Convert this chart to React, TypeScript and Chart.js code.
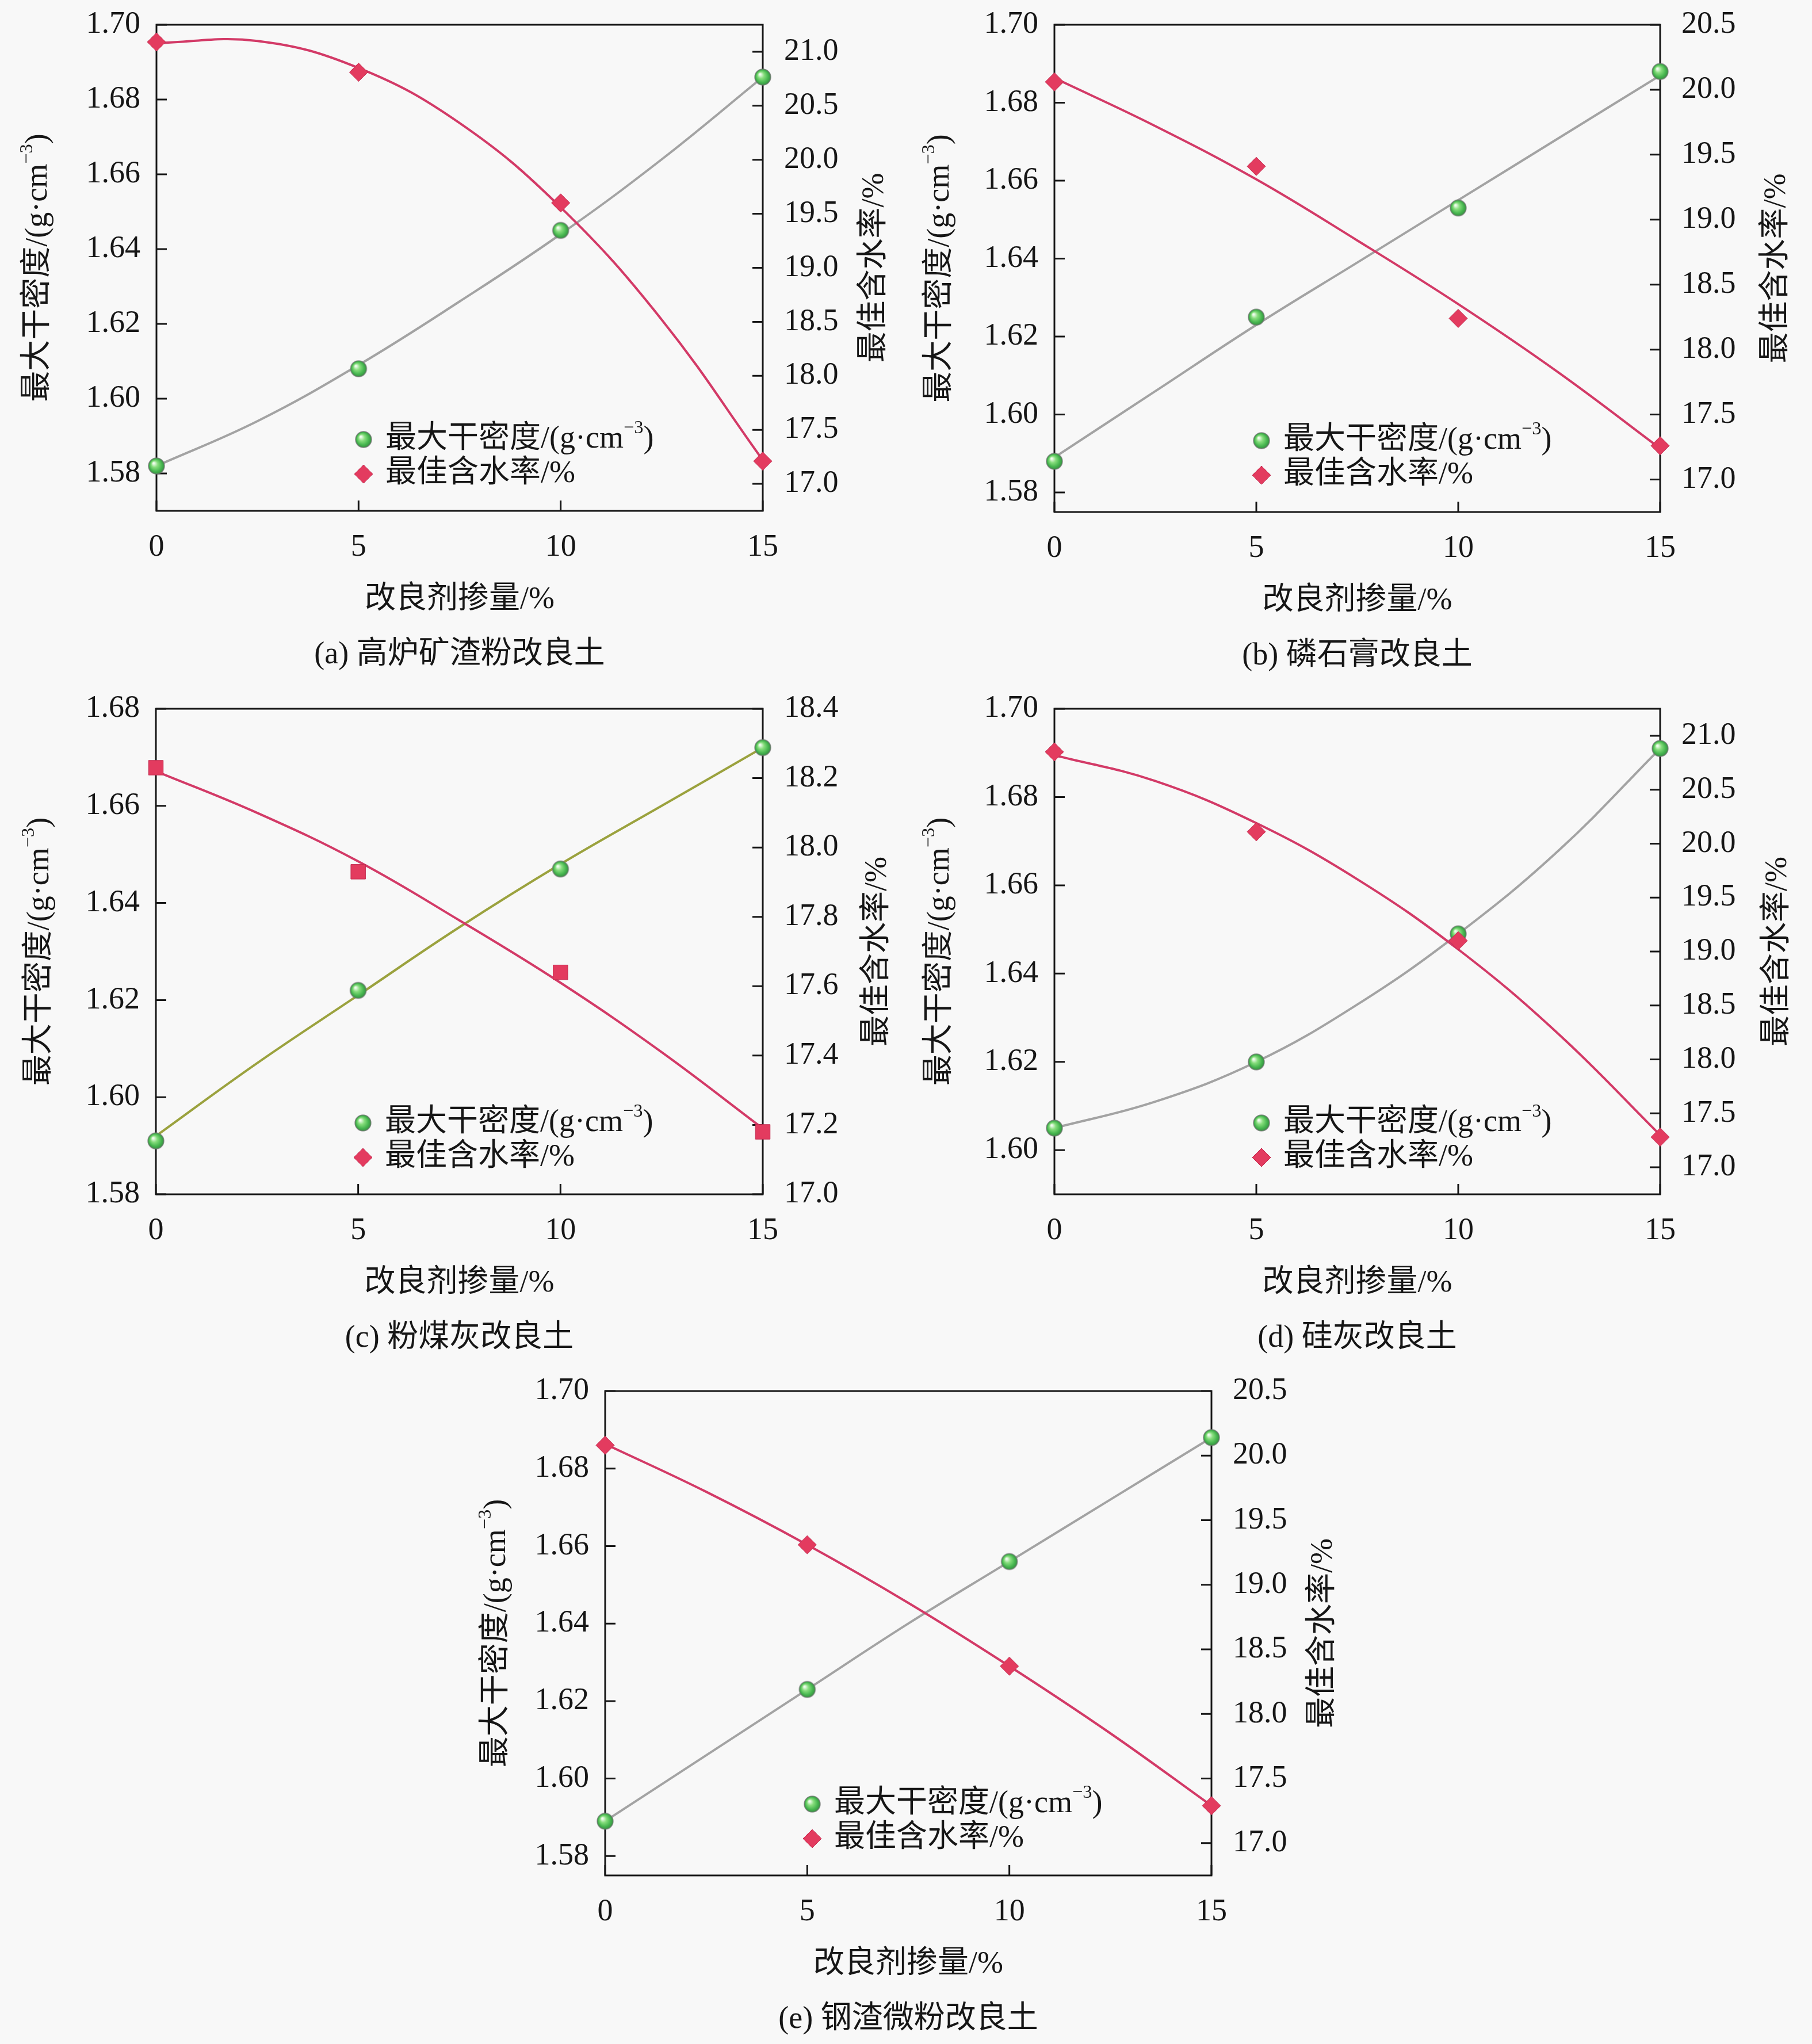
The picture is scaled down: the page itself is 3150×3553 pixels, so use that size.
import { useEffect, useRef } from 'react';
import { Chart, registerables } from 'chart.js';

Chart.register(...registerables);

// 改良剂掺量 (%)
const dosage = [0, 5, 10, 15];
// 拟合曲线读取位置
const fitDosage = [0, 2.5, 5, 7.5, 10, 12.5, 15];
const dosageTicks = [0, 5, 10, 15];

// (a) 高炉矿渣粉
const densityA = [1.582, 1.608, 1.645, 1.686];
const waterA = [21.09, 20.81, 19.6, 17.21];
const densityFitA = [1.582, 1.594, 1.609, 1.626, 1.644, 1.664, 1.686];
const waterFitA = [21.08, 21.1, 20.85, 20.34, 19.56, 18.52, 17.22];

// (b) 磷石膏
const densityB = [1.588, 1.625, 1.653, 1.688];
const waterB = [20.06, 19.41, 18.24, 17.26];
const densityFitB = [1.589, 1.606, 1.623, 1.639, 1.655, 1.671, 1.687];
const waterFitB = [20.09, 19.72, 19.31, 18.84, 18.35, 17.82, 17.24];

// (c) 粉煤灰
const densityC = [1.591, 1.622, 1.647, 1.672];
const waterC = [18.23, 17.93, 17.64, 17.18];
const densityFitC = [1.592, 1.607, 1.621, 1.635, 1.648, 1.66, 1.672];
const waterFitC = [18.22, 18.1, 17.96, 17.79, 17.61, 17.41, 17.19];

// (d) 硅灰
const densityD = [1.605, 1.62, 1.649, 1.691];
const waterD = [20.85, 20.11, 19.1, 17.28];
const densityFitD = [1.605, 1.611, 1.62, 1.633, 1.649, 1.668, 1.691];
const waterFitD = [20.82, 20.58, 20.19, 19.67, 19.02, 18.23, 17.3];

// (e) 钢渣微粉
const densityE = [1.589, 1.623, 1.656, 1.688];
const waterE = [20.08, 19.31, 18.37, 17.29];
const densityFitE = [1.589, 1.606, 1.623, 1.64, 1.656, 1.672, 1.688];
const waterFitE = [20.09, 19.72, 19.31, 18.86, 18.37, 17.85, 17.29];

// 刻度
const densityTicks158 = [1.58, 1.6, 1.62, 1.64, 1.66, 1.68, 1.7];
const densityTicksC = [1.58, 1.6, 1.62, 1.64, 1.66, 1.68];
const densityTicksD = [1.6, 1.62, 1.64, 1.66, 1.68, 1.7];
const waterTicks21 = [17.0, 17.5, 18.0, 18.5, 19.0, 19.5, 20.0, 20.5, 21.0];
const waterTicks205 = [17.0, 17.5, 18.0, 18.5, 19.0, 19.5, 20.0, 20.5];
const waterTicksC = [17.0, 17.2, 17.4, 17.6, 17.8, 18.0, 18.2, 18.4];

const xTitle = '改良剂掺量/%';
const densityTitle = [{ t: '最大干密度/(g·cm' }, { t: '−3', sup: true }, { t: ')' }];
const waterTitle = [{ t: '最佳含水率/%' }];

const SERIF = '"Liberation Serif", "Times New Roman", "Noto Sans CJK SC", serif';
const FS = 54;
const INK = '#161616';
const GRAY_LINE = '#a3a3a3';
const RED_LINE = '#d33a67';
const RED_FILL = '#e33b5f';
const RED_EDGE = '#c22c50';

type Run = { t: string; sup?: boolean };

function drawRuns(ctx: CanvasRenderingContext2D, runs: Run[], x: number, y: number, size: number, align: 'left' | 'center') {
    const widths = runs.map(r => {
        ctx.font = `${r.sup ? size * 0.6 : size}px ${SERIF}`;
        return ctx.measureText(r.t).width;
    });
    const total = widths.reduce((s, w) => s + w, 0);
    let cx = align === 'center' ? x - total / 2 : x;
    ctx.textAlign = 'left';
    ctx.textBaseline = 'middle';
    runs.forEach((r, i) => {
        ctx.font = `${r.sup ? size * 0.6 : size}px ${SERIF}`;
        ctx.fillText(r.t, cx, r.sup ? y - size * 0.36 : y);
        cx += widths[i];
    });
}

let sphereCache: HTMLCanvasElement | null = null;
function sphere() {
    if (sphereCache) return sphereCache;
    const r = 14;
    const s = r * 2 + 4;
    const c = document.createElement('canvas');
    c.width = s;
    c.height = s;
    const g = c.getContext('2d')!;
    const m = s / 2;
    const grad = g.createRadialGradient(m - r * 0.35, m - r * 0.35, r * 0.08, m, m, r);
    grad.addColorStop(0, '#f0fcee');
    grad.addColorStop(0.35, '#86dd7c');
    grad.addColorStop(0.75, '#45b54e');
    grad.addColorStop(1, '#3b8c45');
    g.fillStyle = grad;
    g.beginPath();
    g.arc(m, m, r, 0, Math.PI * 2);
    g.fill();
    g.strokeStyle = 'rgba(120,120,120,0.75)';
    g.lineWidth = 1.5;
    g.stroke();
    sphereCache = c;
    return c;
}

const decorPlugin = {
    id: 'decor',
    beforeDatasetsDraw(chart: any) {
        const { ctx, chartArea: a, scales } = chart;
        ctx.save();
        ctx.strokeStyle = INK;
        ctx.lineWidth = 3;
        ctx.strokeRect(a.left, a.top, a.right - a.left, a.bottom - a.top);
        const tl = 18;
        ctx.beginPath();
        scales.y.ticks.forEach((t: any) => {
            const p = scales.y.getPixelForValue(t.value);
            ctx.moveTo(a.left, p);
            ctx.lineTo(a.left + tl, p);
        });
        scales.y1.ticks.forEach((t: any) => {
            const p = scales.y1.getPixelForValue(t.value);
            ctx.moveTo(a.right - tl, p);
            ctx.lineTo(a.right, p);
        });
        scales.x.ticks.forEach((t: any) => {
            const p = scales.x.getPixelForValue(t.value);
            ctx.moveTo(p, a.bottom);
            ctx.lineTo(p, a.bottom - tl);
        });
        ctx.stroke();
        ctx.restore();
    },
    afterDraw(chart: any, _args: any, o: any) {
        const { ctx, chartArea: a } = chart;
        ctx.save();
        ctx.fillStyle = INK;
        const cx = (a.left + a.right) / 2;
        const cy = (a.top + a.bottom) / 2;
        drawRuns(ctx, [{ t: xTitle }], cx, a.bottom + 155, FS, 'center');
        drawRuns(ctx, [{ t: o.caption }], cx, a.bottom + 251, FS, 'center');

        ctx.save();
        ctx.translate(a.left - o.leftGap, cy);
        ctx.rotate(-Math.PI / 2);
        drawRuns(ctx, densityTitle, 0, 0, FS, 'center');
        ctx.restore();

        ctx.save();
        ctx.translate(a.right + o.rightGap, cy);
        ctx.rotate(-Math.PI / 2);
        drawRuns(ctx, waterTitle, 0, 0, FS, 'center');
        ctx.restore();

        // 图例
        const lx = a.left + 360;
        const r1 = a.bottom - 124;
        const r2 = a.bottom - 64;
        const img = sphere();
        ctx.drawImage(img, lx - img.width / 2, r1 - img.height / 2);
        ctx.fillStyle = RED_FILL;
        ctx.strokeStyle = RED_EDGE;
        ctx.lineWidth = 1;
        ctx.beginPath();
        ctx.moveTo(lx - 16, r2);
        ctx.lineTo(lx, r2 - 16);
        ctx.lineTo(lx + 16, r2);
        ctx.lineTo(lx, r2 + 16);
        ctx.closePath();
        ctx.fill();
        ctx.stroke();
        ctx.fillStyle = INK;
        drawRuns(ctx, densityTitle, lx + 38, r1, FS, 'left');
        drawRuns(ctx, waterTitle, lx + 38, r2, FS, 'left');
        ctx.restore();
    },
};

type PanelCfg = {
    x: number; y: number; w: number; h: number;
    area: [number, number, number, number];
    density: number[]; water: number[]; densityFit: number[]; waterFit: number[];
    densityRange: [number, number]; waterRange: [number, number];
    densityTicks: number[]; waterTicks: number[];
    densityLine: string; waterMarker: string;
    caption: string; leftGap: number; rightGap: number;
};

const panels: PanelCfg[] = [
    {
        x: 0, y: 0, w: 1575, h: 1180, area: [272, 43, 1326, 888],
        density: densityA, water: waterA, densityFit: densityFitA, waterFit: waterFitA,
        densityRange: [1.57, 1.7], waterRange: [16.75, 21.25],
        densityTicks: densityTicks158, waterTicks: waterTicks21,
        densityLine: GRAY_LINE, waterMarker: 'rectRot',
        caption: '(a) 高炉矿渣粉改良土', leftGap: 205, rightGap: 195,
    },
    {
        x: 1575, y: 0, w: 1575, h: 1180, area: [258, 43, 1311, 890],
        density: densityB, water: waterB, densityFit: densityFitB, waterFit: waterFitB,
        densityRange: [1.575, 1.7], waterRange: [16.75, 20.5],
        densityTicks: densityTicks158, waterTicks: waterTicks205,
        densityLine: GRAY_LINE, waterMarker: 'rectRot',
        caption: '(b) 磷石膏改良土', leftGap: 198, rightGap: 203,
    },
    {
        x: 0, y: 1180, w: 1575, h: 1190, area: [271, 52, 1326, 896],
        density: densityC, water: waterC, densityFit: densityFitC, waterFit: waterFitC,
        densityRange: [1.58, 1.68], waterRange: [17.0, 18.4],
        densityTicks: densityTicksC, waterTicks: waterTicksC,
        densityLine: '#9ba23e', waterMarker: 'rect',
        caption: '(c) 粉煤灰改良土', leftGap: 201, rightGap: 200,
    },
    {
        x: 1575, y: 1180, w: 1575, h: 1190, area: [258, 52, 1311, 896],
        density: densityD, water: waterD, densityFit: densityFitD, waterFit: waterFitD,
        densityRange: [1.59, 1.7], waterRange: [16.75, 21.25],
        densityTicks: densityTicksD, waterTicks: waterTicks21,
        densityLine: GRAY_LINE, waterMarker: 'rectRot',
        caption: '(d) 硅灰改良土', leftGap: 198, rightGap: 205,
    },
    {
        x: 790, y: 2363, w: 1575, h: 1190, area: [262, 55, 1316, 897],
        density: densityE, water: waterE, densityFit: densityFitE, waterFit: waterFitE,
        densityRange: [1.575, 1.7], waterRange: [16.75, 20.5],
        densityTicks: densityTicks158, waterTicks: waterTicks205,
        densityLine: GRAY_LINE, waterMarker: 'rectRot',
        caption: '(e) 钢渣微粉改良土', leftGap: 188, rightGap: 195,
    },
];

function Panel({ cfg }: { cfg: PanelCfg }) {
    const canvasRef = useRef<HTMLCanvasElement>(null);

    useEffect(() => {
        if (!canvasRef.current) return;
        const [L, T, R, B] = cfg.area;
        const tickFont = { family: SERIF, size: FS };
        // 去掉刻度标签带来的额外边距, 让绘图区正好落在设定位置
        const noPad = (s: any) => {
            s.paddingTop = 0;
            s.paddingBottom = 0;
            s.paddingLeft = 0;
            s.paddingRight = 0;
        };
        const chart = new Chart(canvasRef.current, {
            type: 'line',
            data: {
                datasets: [
                    {
                        data: dosage.map((x, i) => ({ x, y: cfg.water[i] })),
                        yAxisID: 'y1',
                        showLine: false,
                        pointStyle: cfg.waterMarker as any,
                        pointRadius: cfg.waterMarker === 'rect' ? 18 : 16,
                        pointBackgroundColor: RED_FILL,
                        pointBorderColor: RED_EDGE,
                        pointBorderWidth: 1,
                        clip: false as any,
                    },
                    {
                        data: dosage.map((x, i) => ({ x, y: cfg.density[i] })),
                        yAxisID: 'y',
                        showLine: false,
                        pointStyle: sphere() as any,
                        pointRadius: 14,
                        clip: false as any,
                    },
                    {
                        data: fitDosage.map((x, i) => ({ x, y: cfg.waterFit[i] })),
                        yAxisID: 'y1',
                        borderColor: RED_LINE,
                        borderWidth: 4,
                        pointRadius: 0,
                        tension: 0.4,
                    },
                    {
                        data: fitDosage.map((x, i) => ({ x, y: cfg.densityFit[i] })),
                        yAxisID: 'y',
                        borderColor: cfg.densityLine,
                        borderWidth: 4,
                        pointRadius: 0,
                        tension: 0.4,
                    },
                ],
            },
            options: {
                animation: false,
                responsive: false,
                events: [],
                layout: { padding: { top: T, left: 0, right: 0, bottom: 0 } },
                plugins: {
                    legend: { display: false },
                    tooltip: { enabled: false },
                    decor: { caption: cfg.caption, leftGap: cfg.leftGap, rightGap: cfg.rightGap },
                } as any,
                scales: {
                    x: {
                        type: 'linear',
                        min: 0,
                        max: 15,
                        afterBuildTicks: (s: any) => { s.ticks = dosageTicks.map(v => ({ value: v })); },
                        afterFit: (s: any) => { s.height = cfg.h - B; noPad(s); },
                        grid: { display: false, drawTicks: false, tickLength: 0 },
                        border: { display: false },
                        ticks: { font: tickFont, color: INK, padding: 31, autoSkip: false, maxRotation: 0, callback: (v: any) => String(v) },
                    },
                    y: {
                        type: 'linear',
                        position: 'left',
                        min: cfg.densityRange[0],
                        max: cfg.densityRange[1],
                        afterBuildTicks: (s: any) => { s.ticks = cfg.densityTicks.map(v => ({ value: v })); },
                        afterFit: (s: any) => { s.width = L; noPad(s); },
                        grid: { display: false, drawTicks: false, tickLength: 0 },
                        border: { display: false },
                        ticks: { font: tickFont, color: INK, padding: 28, autoSkip: false, callback: (v: any) => Number(v).toFixed(2) },
                    },
                    y1: {
                        type: 'linear',
                        position: 'right',
                        min: cfg.waterRange[0],
                        max: cfg.waterRange[1],
                        afterBuildTicks: (s: any) => { s.ticks = cfg.waterTicks.map(v => ({ value: v })); },
                        afterFit: (s: any) => { s.width = cfg.w - R; noPad(s); },
                        grid: { display: false, drawTicks: false, tickLength: 0 },
                        border: { display: false },
                        ticks: { font: tickFont, color: INK, padding: 37, autoSkip: false, callback: (v: any) => Number(v).toFixed(1) },
                    },
                },
            },
            plugins: [decorPlugin as any],
        });

        return () => {
            chart.destroy();
        };
    }, [cfg]);

    return (
        <canvas
            ref={canvasRef}
            width={cfg.w}
            height={cfg.h}
            style={{ position: 'absolute', left: cfg.x, top: cfg.y, width: cfg.w, height: cfg.h }}
        />
    );
}

export default function App() {
    return (
        <div style={{ position: 'absolute', left: 0, top: 0, width: 3150, height: 3553, background: '#f8f8f8', overflow: 'hidden' }}>
            {panels.map(p => <Panel key={p.caption} cfg={p} />)}
        </div>
    );
}
